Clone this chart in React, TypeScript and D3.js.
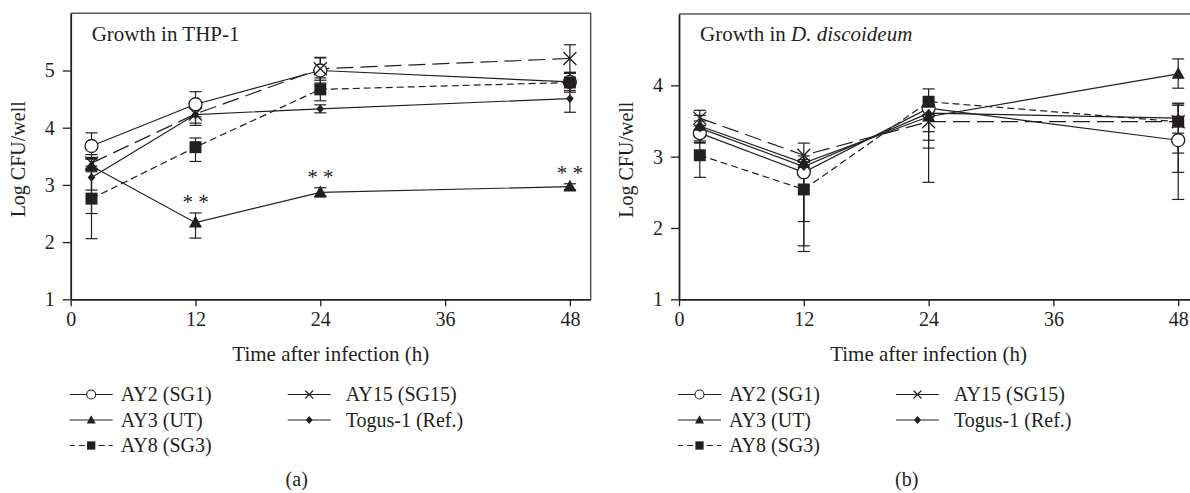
import React, { useEffect, useRef } from "react";
import * as d3 from "d3";

// sampling times (h)
const times = [2, 12, 24, 48];
const xTicks = [0, 12, 24, 36, 48];

// legend / series names
const strainNames = ["AY2 (SG1)", "AY3 (UT)", "AY8 (SG3)", "AY15 (SG15)", "Togus-1 (Ref.)"];

// (a) growth in THP-1, log CFU/well
const thpAY2 = [3.68, 4.41, 5.0, 4.8];
const thpAY3 = [3.33, 2.34, 2.87, 2.97];
const thpAY8 = [2.76, 3.66, 4.67, 4.79];
const thpAY15 = [3.38, 4.24, 5.03, 5.21];
const thpTogus = [3.13, 4.23, 4.33, 4.51];
// error bars as [minus, plus]
const thpAY2Err = [[0.23, 0.23], [0.22, 0.22], [0.22, 0.22], [0.15, 0.15]];
const thpAY3Err = [[0.83, 0.15], [0.27, 0.17], [0.08, 0.08], [0.05, 0.05]];
const thpAY8Err = [[0.7, 0.7], [0.25, 0.16], [0.2, 0.2], [0.17, 0.17]];
const thpAY15Err = [[0.15, 0.15], [0.2, 0.2], [0.2, 0.2], [0.24, 0.24]];
const thpTogusErr = [[0.22, 0.2], [0.15, 0.15], [0.07, 0.07], [0.24, 0.24]];
const thpStars = [12, 24, 48]; // AY3 significantly lower

// (b) growth in D. discoideum
const ddAY2 = [3.33, 2.78, 3.68, 3.23];
const ddAY3 = [3.43, 2.91, 3.56, 4.16];
const ddAY8 = [3.02, 2.54, 3.77, 3.49];
const ddAY15 = [3.54, 3.02, 3.49, 3.49];
const ddTogus = [3.4, 2.86, 3.61, 3.54];
const ddAY2Err = [[0.14, 0.1], [0.69, 0.1], [0.33, 0.1], [0.83, 0.1]];
const ddAY3Err = [[0.15, 0.15], [0.1, 0.1], [0.33, 0.1], [0.2, 0.21]];
const ddAY8Err = [[0.31, 0.2], [0.87, 0.2], [0.18, 0.18], [0.71, 0.25]];
const ddAY15Err = [[0.1, 0.11], [0.1, 0.17], [0.37, 0.1], [0.44, 0.23]];
const ddTogusErr = [[0.2, 0.1], [1.11, 0.1], [0.97, 0.1], [0.1, 0.21]];

const INK = "#231f20";
const FONT = "'Liberation Serif', 'Times New Roman', serif";

const styles = [
  { marker: "circle", dash: null },
  { marker: "triangle", dash: null },
  { marker: "square", dash: "7,4" },
  { marker: "x", dash: "17,7" },
  { marker: "diamond", dash: null },
];

function drawMarker(g, type, cx, cy, s, sw = 1.3) {
  // s = overall marker size in px
  const h = s / 2;
  if (type === "circle") {
    g.append("circle").attr("cx", cx).attr("cy", cy).attr("r", h)
      .attr("fill", "#fff").attr("stroke", INK).attr("stroke-width", sw);
  } else if (type === "triangle") {
    g.append("path")
      .attr("d", `M${cx},${cy - h * 1.05}L${cx + h},${cy + h * 0.75}L${cx - h},${cy + h * 0.75}Z`)
      .attr("fill", INK);
  } else if (type === "square") {
    g.append("rect").attr("x", cx - h * 0.92).attr("y", cy - h * 0.92)
      .attr("width", s * 0.92).attr("height", s * 0.92).attr("fill", INK);
  } else if (type === "diamond") {
    g.append("path")
      .attr("d", `M${cx},${cy - h * 0.8}L${cx + h * 0.7},${cy}L${cx},${cy + h * 0.8}L${cx - h * 0.7},${cy}Z`)
      .attr("fill", INK);
  } else {
    g.append("path")
      .attr("d", `M${cx - h},${cy - h}L${cx + h},${cy + h}M${cx + h},${cy - h}L${cx - h},${cy + h}`)
      .attr("stroke", INK).attr("stroke-width", sw).attr("fill", "none");
  }
}

function drawPanel(svg, p) {
  const x = d3.scaleLinear().domain([0, 50]).range([p.left, p.left + 520]);
  const y = d3.scaleLinear().domain(p.yDomain).range([p.bottom, p.top]);
  const g = svg.append("g");

  // frame (top/right grey)
  g.append("path")
    .attr("d", `M${x(0)},${y(p.yDomain[1])}H${x(50)}V${y(p.yDomain[0])}`)
    .attr("fill", "none").attr("stroke", "#58595b").attr("stroke-width", 1.5);

  const xAxis = g.append("g").attr("transform", `translate(0,${p.bottom})`)
    .call(d3.axisBottom(x).tickValues(xTicks).tickSize(7).tickSizeOuter(0).tickPadding(6));
  const yAxis = g.append("g").attr("transform", `translate(${p.left},0)`)
    .call(d3.axisLeft(y).tickValues(p.yTicks).tickFormat(d3.format("d")).tickSize(8).tickSizeOuter(0).tickPadding(8));
  [xAxis, yAxis].forEach(a => {
    a.select(".domain").attr("stroke", INK).attr("stroke-width", 1.8);
    a.selectAll(".tick line").attr("stroke", INK).attr("stroke-width", 1.3);
    a.selectAll(".tick text").attr("fill", INK).style("font-family", FONT).style("font-size", "20px");
  });

  const line = d3.line().x((d, i) => x(times[i])).y(d => y(d));

  p.series.forEach((vals, k) => {
    g.append("path").datum(vals)
      .attr("d", line)
      .attr("fill", "none").attr("stroke", INK).attr("stroke-width", 1.2)
      .attr("stroke-dasharray", styles[k].dash);
  });

  p.series.forEach((vals, k) => {
    vals.forEach((v, i) => {
      const [lo, hi] = p.errors[k][i];
      const cx = x(times[i]);
      const y0 = y(v - lo), y1 = y(v + hi);
      g.append("line").attr("x1", cx).attr("x2", cx).attr("y1", y0).attr("y2", y1)
        .attr("stroke", INK).attr("stroke-width", 1.2);
      [y0, y1].forEach(yy => g.append("line").attr("x1", cx - 6).attr("x2", cx + 6)
        .attr("y1", yy).attr("y2", yy).attr("stroke", INK).attr("stroke-width", 1.2));
    });
  });

  p.series.forEach((vals, k) => {
    vals.forEach((v, i) => {
      const size = styles[k].marker === "diamond" ? 11 : 13;
      drawMarker(g, styles[k].marker, x(times[i]), y(v), size);
    });
  });

  if (p.stars) {
    p.stars.forEach(t => {
      const i = times.indexOf(t);
      const v = p.series[1][i] + p.errors[1][i][1];
      g.append("text").attr("x", x(t)).attr("y", y(v) - 4)
        .attr("text-anchor", "middle").attr("fill", INK)
        .style("font-family", FONT).style("font-size", "21px")
        .text("* *");
    });
  }

  // title
  const title = g.append("text").attr("x", p.left + 21).attr("y", 41)
    .attr("fill", INK).style("font-family", FONT).style("font-size", "21px");
  title.append("tspan").text("Growth in ");
  title.append("tspan").style("font-style", p.italic ? "italic" : "normal").text(p.host);

  g.append("text")
    .attr("transform", `translate(${p.left - 53},${(p.top + p.bottom) / 2 + 3}) rotate(-90)`)
    .attr("text-anchor", "middle").attr("dy", "0.35em").attr("fill", INK)
    .style("font-family", FONT).style("font-size", "20px")
    .text("Log CFU/well");

  g.append("text").attr("x", p.xTitle).attr("y", 361)
    .attr("text-anchor", "middle").attr("fill", INK)
    .style("font-family", FONT).style("font-size", "21px")
    .text("Time after infection (h)");

  // legend, two columns; only AY8 line is dashed in the key
  const rows = [394.5, 420, 445.5];
  strainNames.forEach((name, k) => {
    const col = k < 3 ? 0 : 1;
    const row = k < 3 ? k : k - 3;
    const lx = p.left - 1 + col * 218;
    const ly = rows[row];
    g.append("line").attr("x1", lx).attr("x2", lx + 43).attr("y1", ly).attr("y2", ly)
      .attr("stroke", INK).attr("stroke-width", 1.2)
      .attr("stroke-dasharray", k === 2 ? "6,4" : null)
      .attr("stroke-dashoffset", k === 2 ? 1 : null);
    const ms = styles[k].marker === "diamond" ? 10 : styles[k].marker === "x" ? 8 : 9;
    drawMarker(g, styles[k].marker, lx + 21.5, ly, ms, 1.1);
    g.append("text").attr("x", lx + (col ? 58 : 51)).attr("y", ly).attr("dy", "0.33em")
      .attr("fill", INK).style("font-family", FONT).style("font-size", "20px").text(name);
  });

  g.append("text").attr("x", p.tag).attr("y", 486)
    .attr("text-anchor", "middle").attr("fill", INK)
    .style("font-family", FONT).style("font-size", "20px")
    .text(p.label);
}

export default function App() {
  const ref = useRef(null);

  useEffect(() => {
    const svg = d3.select(ref.current);
    svg.selectAll("*").remove();
    drawPanel(svg, {
      left: 70.7, top: 13.3, bottom: 299.3, yDomain: [1, 6], yTicks: [1, 2, 3, 4, 5],
      series: [thpAY2, thpAY3, thpAY8, thpAY15, thpTogus],
      errors: [thpAY2Err, thpAY3Err, thpAY8Err, thpAY15Err, thpTogusErr],
      stars: thpStars, host: "THP-1", italic: false,
      xTitle: 330.8, tag: 296.7, label: "(a)",
    });
    drawPanel(svg, {
      left: 679, top: 14, bottom: 299.3, yDomain: [1, 5], yTicks: [1, 2, 3, 4],
      series: [ddAY2, ddAY3, ddAY8, ddAY15, ddTogus],
      errors: [ddAY2Err, ddAY3Err, ddAY8Err, ddAY15Err, ddTogusErr],
      stars: null, host: "D. discoideum", italic: true,
      xTitle: 928.6, tag: 906.7, label: "(b)",
    });
  }, []);

  return (
    <svg ref={ref} width={1190} height={493}
      style={{ position: "absolute", left: 0, top: 0, background: "#fff" }} />
  );
}
